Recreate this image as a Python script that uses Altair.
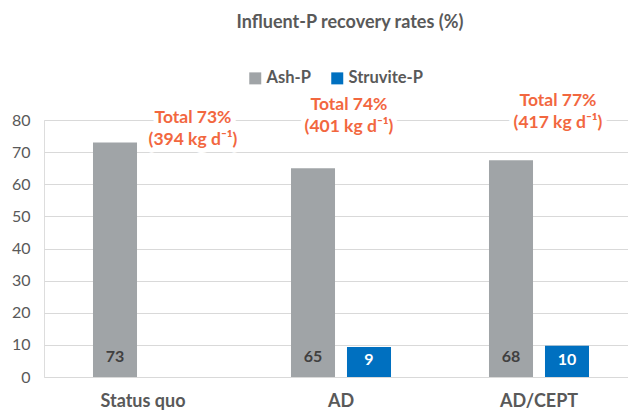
import altair as alt
import pandas as pd

categories = ["Status quo", "AD", "AD/CEPT"]
series = ["Ash-P", "Struvite-P"]
ash_p = [73, 65, 67.5]
struvite_p = [None, 9.3, 9.7]
ash_labels = ["73", "65", "68"]
struvite_labels = ["", "9", "10"]
total_pct = ["Total 73%", "Total 74%", "Total 77%"]
total_kg = ["(394 kg d\u207b\u00b9)", "(401 kg d\u207b\u00b9)", "(417 kg d\u207b\u00b9)"]
ann_y = [80.6, 84.7, 86.0]

rows = []
for i, c in enumerate(categories):
    rows.append({"category": c, "series": "Ash-P", "value": ash_p[i], "label": ash_labels[i]})
    if struvite_p[i] is not None:
        rows.append({"category": c, "series": "Struvite-P", "value": struvite_p[i], "label": struvite_labels[i]})
df = pd.DataFrame(rows)

FONT = "Lato"
GRAY_TXT = "#595959"
ORANGE = "#F2673F"

x_scale = alt.Scale(domain=categories, range=[0, 594], paddingInner=0, paddingOuter=0)
x_axis = alt.Axis(title=None, domain=False, ticks=False, tickSize=0, labelAngle=0,
                  labelFontSize=18, labelFontWeight="bold", labelColor=GRAY_TXT,
                  labelFont=FONT, labelPadding=15)
y_scale = alt.Scale(domain=[0, 80])
y_axis = alt.Axis(title=None, values=list(range(0, 81, 10)), grid=True,
                  gridColor="#D9D9D9", gridWidth=1, domain=False, ticks=False,
                  tickSize=0, labelPadding=14, labelFontSize=16, labelOverlap=False,
                  labelColor=GRAY_TXT, labelFont=FONT)


def xe(field="category"):
    return alt.X(f"{field}:N", sort=categories, scale=x_scale, axis=x_axis)


xoff_enc = alt.XOffset("series:N", sort=series,
                       scale=alt.Scale(domain=series, paddingInner=0.214, paddingOuter=0.875))

base = alt.Chart(df)

bars = base.mark_bar().encode(
    x=xe(), xOffset=xoff_enc,
    y=alt.Y("value:Q", scale=y_scale, axis=y_axis),
    color=alt.Color("series:N", sort=series,
                    scale=alt.Scale(domain=series, range=["#A0A4A7", "#0070C0"]),
                    legend=alt.Legend(orient="none", legendX=203, legendY=-50,
                                      direction="horizontal", title=None,
                                      symbolType="square", symbolSize=144,
                                      symbolStrokeWidth=0, labelFontSize=16.5,
                                      labelFontWeight="bold", labelColor=GRAY_TXT,
                                      labelFont=FONT, columnPadding=18,
                                      labelOffset=3, padding=0)),
)

ash_lbl = base.transform_filter(alt.datum.series == "Ash-P").mark_text(
    dy=-20.5, fontSize=16, fontWeight="bold", font=FONT, color="#404040", baseline="middle"
).encode(x=xe(), xOffset=xoff_enc, y=alt.datum(0, scale=y_scale, axis=y_axis), text="label:N")

str_lbl = base.transform_filter(alt.datum.series == "Struvite-P").mark_text(
    dy=-17, fontSize=16, fontWeight="bold", font=FONT, color="white", baseline="middle"
).encode(x=xe(), xOffset=xoff_enc, y=alt.datum(0, scale=y_scale, axis=y_axis), text="label:N")

layers = [bars, ash_lbl, str_lbl]

ann_dx = [50, 8, 19]
for i, c in enumerate(categories):
    adf = pd.DataFrame({"category": [c], "line1": [total_pct[i]], "line2": [total_kg[i]], "ay": [ann_y[i]]})
    ab = alt.Chart(adf)
    common = dict(fontSize=17.5, fontWeight="bold", font=FONT, baseline="middle", dx=ann_dx[i])
    enc = dict(x=xe(), y=alt.Y("ay:Q", scale=y_scale, axis=y_axis))
    for field, dyv in (("line1", 0), ("line2", 22)):
        layers.append(ab.mark_text(color="white", stroke="white", strokeWidth=10,
                                   strokeJoin="round", dy=dyv, **common).encode(
            text=f"{field}:N", **enc))
    for field, dyv in (("line1", 0), ("line2", 22)):
        layers.append(ab.mark_text(color=ORANGE, dy=dyv, **common).encode(
            text=f"{field}:N", **enc))

chart = alt.layer(*layers).properties(
    width=584, height=257,
    title=alt.TitleParams("Influent-P recovery rates (%)", fontSize=18, fontWeight="bold",
                          color=GRAY_TXT, font=FONT, anchor="middle", frame="group",
                          dx=14, offset=38),
    autosize=alt.AutoSizeParams(type="none"),
    padding={"left": 36, "top": 112, "right": 0, "bottom": 33},
).configure_view(stroke=None).configure(font=FONT)

chart.save("out.html", embed_options={"renderer": "svg", "actions": False})
